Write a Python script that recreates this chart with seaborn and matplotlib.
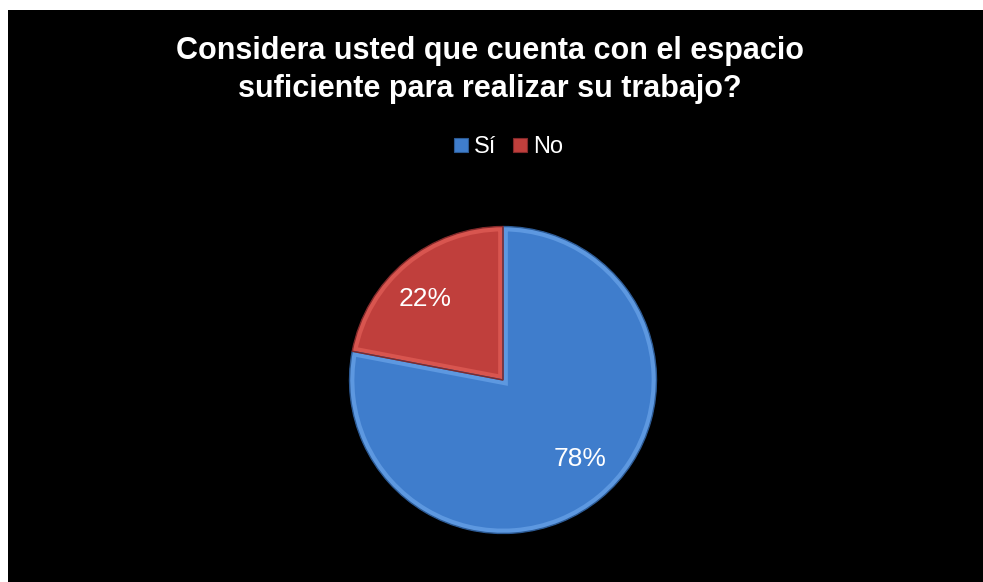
import matplotlib
matplotlib.use("Agg")
import numpy as np
import matplotlib.pyplot as plt
from matplotlib.patches import Rectangle, Wedge
from matplotlib.lines import Line2D
import seaborn as sns

# Survey answers and their shares
categories = ["Sí", "No"]
shares = [78, 22]
title_lines = ["Considera usted que cuenta con el espacio",
               "suficiente para realizar su trabajo?"]

sns.set_theme(style="white")
plt.rcParams["font.family"] = ["Liberation Sans", "DejaVu Sans"]

colors = ["#3f7dcc", "#c03f3c"]
rim_colors = ["#5d98e0", "#d8554f"]
edge_colors = ["#2c5a94", "#82292a"]

W, H = 983, 582
fig = plt.figure(figsize=(W / 100, H / 100), dpi=100)
fig.patch.set_facecolor("white")

# black chart area with a white margin on the top and left
fig.patches.append(Rectangle((8 / W, 0), 1 - 8 / W, (H - 10) / H,
                             transform=fig.transFigure, facecolor="black",
                             edgecolor="none", zorder=-5))

cx, cy, r = 503, 380, 155
ax = fig.add_axes([(cx - r) / W, (H - cy - r) / H, 2 * r / W, 2 * r / H])
ax.set_facecolor("none")
ax.set_zorder(2)

wedges, texts, autotexts = ax.pie(
    shares, colors=colors, startangle=90, counterclock=False,
    autopct="%1.0f%%", pctdistance=0.73,
    wedgeprops=dict(linewidth=0),
    textprops=dict(color="white", fontsize=19, zorder=5),
)

# bevelled look: a lighter rim inside each slice plus a dark outline
for w, rc, ec in zip(wedges, rim_colors, edge_colors):
    rim = Wedge(w.center, w.r, w.theta1, w.theta2, facecolor="none",
                edgecolor=rc, linewidth=7, zorder=3)
    rim.set_clip_path(w)
    ax.add_patch(rim)
    outline = Wedge(w.center, w.r, w.theta1, w.theta2, facecolor="none",
                    edgecolor=ec, linewidth=1.0, zorder=4)
    ax.add_patch(outline)

# percentage labels placed at best-fit angles inside each slice
label_angles = [-45.7, 134.0]
label_radius = [0.72, 0.735]
for t, ang, rad in zip(autotexts, label_angles, label_radius):
    a = np.deg2rad(ang)
    t.set_position((rad * np.cos(a), rad * np.sin(a)))

ax.set_xlim(-1.01, 1.01)
ax.set_ylim(-1.01, 1.01)
ax.set_aspect("equal")
ax.axis("off")

fig.text(490 / W, 1 - 70 / H, "\n".join(title_lines), ha="center", va="center",
         color="white", fontsize=22, fontweight="bold", linespacing=1.34,
         zorder=3)

handles = [Line2D([], [], marker="s", linestyle="none", markersize=10,
                  markerfacecolor=c, markeredgecolor=ec, markeredgewidth=0.8)
           for c, ec in zip(colors, edge_colors)]
leg = fig.legend(handles, categories, loc="center",
                 bbox_to_anchor=(506 / W, 1 - 147 / H),
                 ncol=2, frameon=False, fontsize=17, labelcolor="white",
                 handletextpad=0.05, columnspacing=0.5, handlelength=1.0)
leg.set_zorder(3)

fig.savefig("out.png", dpi=100, facecolor=fig.get_facecolor())
